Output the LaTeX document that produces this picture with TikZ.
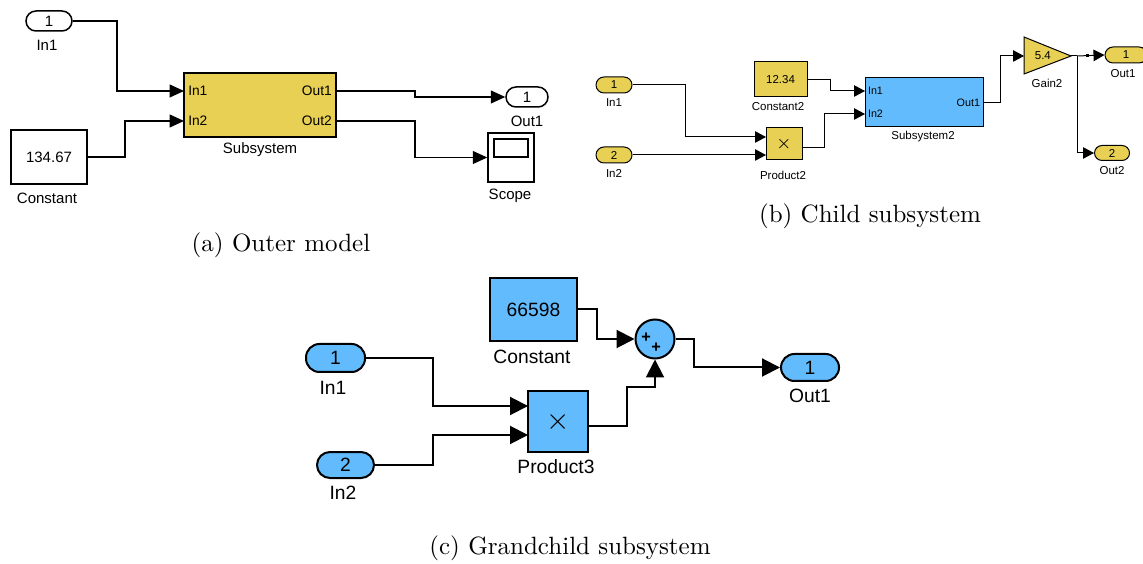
\documentclass[tikz,border=0pt]{standalone}
\usepackage{fontspec}
\setsansfont{Liberation Sans}
\usepackage{tikz}
\usetikzlibrary{arrows.meta}
\definecolor{simyel}{RGB}{231,208,84}
\definecolor{simblu}{RGB}{98,187,252}

\begin{document}
\begin{tikzpicture}[x=0.4pt,y=-0.4pt,
  ta/.style={font=\sffamily\fontsize{6}{7}\selectfont},
  pa/.style={font=\sffamily\fontsize{5.5}{6}\selectfont,inner sep=1.5pt},
  tb/.style={font=\sffamily\fontsize{4.6}{5}\selectfont},
  pb/.style={font=\sffamily\fontsize{4.3}{5}\selectfont,inner sep=1pt},
  tc/.style={font=\sffamily\fontsize{7.7}{9}\selectfont},
  blk/.style={draw,inner sep=0pt},
  pill/.style={draw,inner sep=0pt,rounded corners=#1},
  siga/.style={line width=0.5pt,-{Triangle[length=5.8pt,width=5.2pt]}},
  sigb/.style={line width=0.4pt,-{Triangle[length=4.4pt,width=4.6pt]}},
  sigc/.style={line width=0.8pt,-{Triangle[length=7.2pt,width=7.2pt]}}]
\useasboundingbox (0,0) rectangle (1143,564);

% (a) outer model
\node[pill=4pt,ta,line width=0.6pt,minimum width=18.4pt,minimum height=8pt] (aIn1) at (49,21) {1};
\node[ta] (aIn1l) at (47,45) {In1};
\node[blk,ta,line width=0.6pt,minimum width=30.4pt,minimum height=21.6pt] (aConst) at (49,157) {134.67};
\node[ta] (aConstl) at (47,198) {Constant};
\node[blk,fill=simyel,line width=0.6pt,minimum width=60.8pt,minimum height=25.6pt] (aSub) at (260,105) {};
\node[ta] (aSubl) at (260,150) {Subsystem};
\coordinate (aSubI1) at (184,91);
\coordinate (aSubI2) at (184,121);
\coordinate (aSubO1) at (336,91);
\coordinate (aSubO2) at (336,121);
\node[pa,anchor=west] (aSubp1) at (aSubI1) {In1};
\node[pa,anchor=west] (aSubp2) at (aSubI2) {In2};
\node[pa,anchor=east] (aSubp3) at (aSubO1) {Out1};
\node[pa,anchor=east] (aSubp4) at (aSubO2) {Out2};
\node[pill=4pt,ta,line width=0.6pt,minimum width=16.8pt,minimum height=8pt] (aOut1) at (527,97) {1};
\node[ta] (aOut1l) at (527,121) {Out1};
\node[blk,line width=0.6pt,minimum width=18.4pt,minimum height=19.6pt] (aScope) at (511,157.5) {};
\node[blk,line width=0.6pt,minimum width=13.6pt,minimum height=7.2pt] (aScopeWin) at (511,148) {};
\node[ta] (aScopel) at (510,196) {Scope};
\draw[siga] (aIn1.east) -- (117,21) |- (aSubI1);
\draw[siga] (aConst.east) -- (125,157) |- (aSubI2);
\draw[siga] (aSubO1) -- (415,91) |- (aOut1.west);
\draw[siga] (aSubO2) -- (415,121) |- (aScope.west);
\node (capa) at (281,245) {(a) Outer model};

% (b) child subsystem
\node[pill=3.2pt,tb,fill=simyel,minimum width=14.4pt,minimum height=6.4pt] (bIn1) at (614,85) {1};
\node[tb] (bIn1l) at (614,103) {In1};
\node[pill=3.2pt,tb,fill=simyel,minimum width=14.4pt,minimum height=6.4pt] (bIn2) at (614,155) {2};
\node[tb] (bIn2l) at (614,173) {In2};
\node[blk,fill=simyel,minimum width=14.4pt,minimum height=12.8pt,font=\fontsize{7}{7}\selectfont] (bProd) at (784,144) {$\times$};
\node[tb] (bProdl) at (783,175) {Product2};
\node[blk,tb,fill=simyel,minimum width=21.2pt,minimum height=14pt] (bConst) at (780.5,79.5) {12.34};
\node[tb] (bConstl) at (778,107) {Constant2};
\node[blk,fill=simblu,minimum width=47.2pt,minimum height=19.6pt] (bSub) at (924,102.5) {};
\node[tb] (bSubl) at (923,137) {Subsystem2};
\coordinate (bSubI1) at (865,91);
\coordinate (bSubI2) at (865,114);
\coordinate (bSubO1) at (983,103);
\node[pb,anchor=west] (bSubp1) at (bSubI1) {In1};
\node[pb,anchor=west] (bSubp2) at (bSubI2) {In2};
\node[pb,anchor=east] (bSubp3) at (bSubO1) {Out1};
\coordinate (bProdI1) at (766,137);
\coordinate (bProdI2) at (766,155);
\coordinate (bProdO) at (802,148);
\draw[fill=simyel,line width=0.4pt] (1024,37) -- (1071,56) -- (1024,74) -- cycle;
\coordinate (bGainIn) at (1024,56);
\coordinate (bGainOut) at (1071,56);
\node[tb,anchor=west] (bGain) at (1026,56) {5.4};
\node[tb] (bGainl) at (1047,83) {Gain2};
\node[pill=3.2pt,tb,fill=simyel,minimum width=16.8pt,minimum height=6.4pt] (bOut1) at (1126,55) {1};
\node[tb] (bOut1l) at (1123,74) {Out1};
\node[pill=3pt,tb,fill=simyel,minimum width=14pt,minimum height=6pt] (bOut2) at (1112,153) {2};
\node[tb] (bOut2l) at (1112,171) {Out2};
\coordinate (bBr) at (1077,56);
\draw[sigb] (bIn1.east) -- (685,85) |- (bProdI1);
\draw[sigb] (bIn2.east) -- (bProdI2);
\draw[sigb] (bConst.east) -- (830,79.5) |- (bSubI1);
\draw[sigb] (bProdO) -- (824,148) |- (bSubI2);
\draw[sigb] (bSubO1) -- (1000,103) |- (bGainIn);
\draw[line width=0.4pt] (bGainOut) -- (bBr);
\draw[sigb] (bBr) -- (bOut1.west);
\draw[sigb] (bBr) |- (bOut2.west);
\fill (1085.5,54.5) rectangle (1088.5,57.5);
\node (capb) at (870,216) {(b) Child subsystem};

% (c) grandchild subsystem
\node[pill=5.4pt,tc,fill=simblu,line width=0.8pt,minimum width=23.6pt,minimum height=11.2pt] (cIn1) at (335.5,358) {1};
\node[tc] (cIn1l) at (333,388) {In1};
\node[pill=5.2pt,tc,fill=simblu,line width=0.8pt,minimum width=22.8pt,minimum height=10.4pt] (cIn2) at (345.5,465) {2};
\node[tc] (cIn2l) at (343,493) {In2};
\node[blk,tc,fill=simblu,line width=0.8pt,minimum width=34.8pt,minimum height=25.2pt] (cConst) at (533.5,309.5) {66598};
\node[tc] (cConstl) at (532,357) {Constant};
\node[blk,fill=simblu,line width=0.8pt,minimum width=24pt,minimum height=24.4pt,font=\fontsize{12}{12}\selectfont] (cProd) at (558,421.5) {$\times$};
\node[tc] (cProdl) at (556,467) {Product3};
\coordinate (cProdI1) at (528,406);
\coordinate (cProdI2) at (528,435);
\coordinate (cProdO) at (588,426);
\node[circle,draw,fill=simblu,line width=0.8pt,minimum size=15.6pt,inner sep=0pt] (cSum) at (655,339) {};
\node[inner sep=0pt,font=\sffamily\bfseries\fontsize{6.5}{6.5}\selectfont] (cPlus1) at (646,338) {+};
\node[inner sep=0pt,font=\sffamily\bfseries\fontsize{6.5}{6.5}\selectfont] (cPlus2) at (656,348) {+};
\node[pill=5.4pt,tc,fill=simblu,line width=0.8pt,minimum width=23.2pt,minimum height=10.8pt] (cOut1) at (810,367.5) {1};
\node[tc] (cOut1l) at (810,396) {Out1};
\draw[sigc] (cIn1.east) -- (433,358) |- (cProdI1);
\draw[sigc] (cIn2.east) -- (433,465) |- (cProdI2);
\draw[sigc] (cConst.east) -- (597,309.5) |- (cSum.west);
\draw[sigc] (cProdO) -| (627,387) -| (cSum.south);
\draw[sigc] (cSum.east) -- (694,339) |- (cOut1.west);
\node (capc) at (570,548) {(c) Grandchild subsystem};
\end{tikzpicture}
\end{document}
